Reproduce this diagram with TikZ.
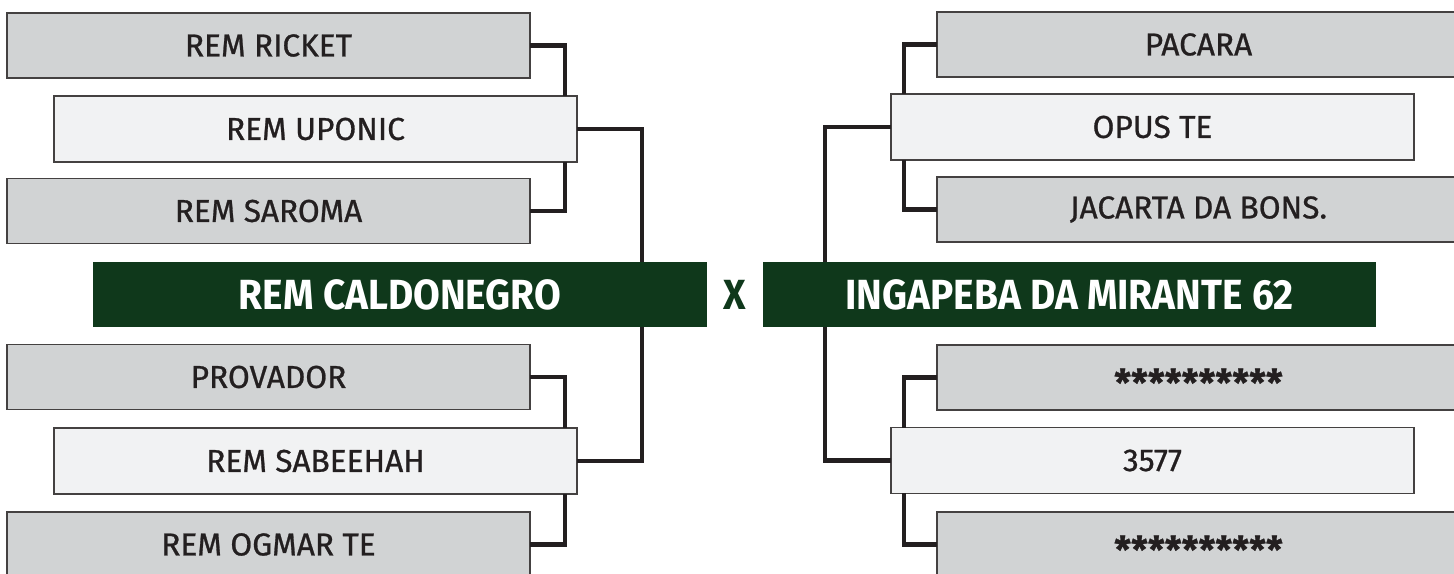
\documentclass[tikz,border=0pt]{standalone}
\usepackage{fontspec}
\setmainfont{Fira Sans}
\newfontfamily\teamfont[FakeBold=0.8]{Fira Sans}
\newfontfamily\finalfont[FakeStretch=0.92]{Fira Sans}
\usetikzlibrary{calc}
\definecolor{bkgray}{RGB}{209,211,212}
\definecolor{bklight}{RGB}{241,242,243}
\definecolor{bkgreen}{RGB}{15,56,27}
\definecolor{bkline}{RGB}{35,31,32}
\newcommand{\hidden}{\smash{\raisebox{-0.24em}{\fontsize{21}{24}\selectfont\bfseries **********}}\vphantom{A}}

\tikzset{
  team/.style={draw=bkline!85,line width=0.8pt,fill=bkgray,text=bkline,
    minimum width=10.46cm,minimum height=1.3cm,inner sep=0pt,outer sep=0pt,
    font=\teamfont\fontsize{18}{21}\selectfont},
  winner/.style={team,fill=bklight,minimum height=1.32cm},
  finalist/.style={fill=bkgreen,text=white,minimum width=12.28cm,minimum height=1.3cm,
    inner sep=0pt,outer sep=0pt,font=\finalfont\fontsize{24}{28}\selectfont\bfseries},
  link/.style={bkline,line width=2.7pt}
}

\begin{document}
\begin{tikzpicture}[x=0.02cm,y=-0.02cm]
  \useasboundingbox (0,0) rectangle (1454,574);
  \clip (0,0) rectangle (1454,574);
  % left bracket
  \node[team] (ricket) at (268.5,45.5) {REM RICKET};
  \node[winner] (uponic) at (315.5,129) {REM UPONIC};
  \node[team] (saroma) at (268.5,211) {REM SAROMA};
  \node[team] (provador) at (268.5,377) {PROVADOR};
  \node[winner] (sabeehah) at (315.5,461) {REM SABEEHAH};
  \node[team] (ogmar) at (268.5,544.5) {REM OGMAR TE};
  % right bracket
  \node[team] (pacara) at (1198.5,44.5) {PACARA};
  \node[winner] (opus) at (1152.5,127) {OPUS TE};
  \node[team] (jacarta) at (1198.5,209.5) {JACARTA DA BONS.};
  \node[team] (starsa) at (1198.5,377.5) {\hidden};
  \node[winner] (num) at (1152.5,460.5) {3577};
  \node[team] (starsb) at (1198.5,544.5) {\hidden};

  \draw[link] (ricket.east) -| ($(uponic.north east)+(-12,0)$);
  \draw[link] ($(uponic.south east)+(-12,0)$) |- (saroma.east);
  \draw[link] (provador.east) -| ($(sabeehah.north east)+(-12,0)$);
  \draw[link] ($(sabeehah.south east)+(-12,0)$) |- (ogmar.east);
  \draw[link] (uponic.east) -- ++(65,0) |- (sabeehah.east);

  \draw[link] (pacara.west) -| ($(opus.north west)+(13,0)$);
  \draw[link] ($(opus.south west)+(13,0)$) |- (jacarta.west);
  \draw[link] (starsa.west) -| ($(num.north west)+(13,0)$);
  \draw[link] ($(num.south west)+(13,0)$) |- (starsb.west);
  \draw[link] (opus.west) -- ++(-66,0) |- (num.west);

  % final
  \node[finalist] (caldo) at (400,294.5) {REM CALDONEGRO};
  \node[finalist] (ingap) at (1069.5,294.5) {INGAPEBA DA MIRANTE 62};
  \node[text=bkgreen,font=\finalfont\fontsize{24}{28}\selectfont\bfseries] (versus) at (735,294.5) {X};
\end{tikzpicture}
\end{document}
